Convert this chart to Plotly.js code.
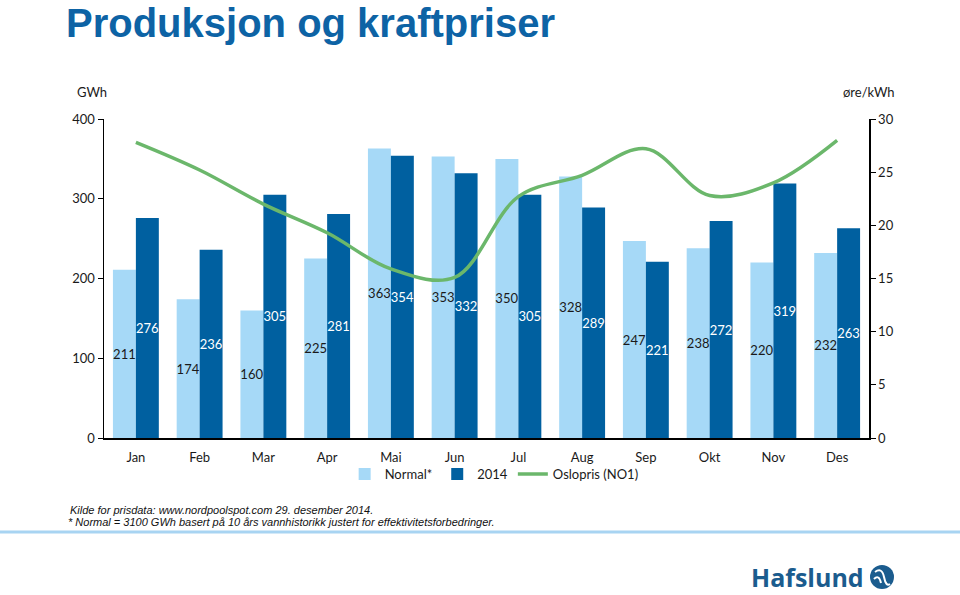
<!DOCTYPE html>
<html>
<head>
<meta charset="utf-8">
<script src="https://cdn.plot.ly/plotly-3.0.1.min.js"></script>
<style>html,body{margin:0;padding:0;background:#fff;}#chart{width:960px;height:595px;}</style>
</head>
<body>
<div id="chart"></div>
<script>
const months = ['Jan','Feb','Mar','Apr','Mai','Jun','Jul','Aug','Sep','Okt','Nov','Des'];
const normal = [211,174,160,225,363,353,350,328,247,238,220,232];
const prod2014 = [276,236,305,281,354,332,305,289,221,272,319,263];
const oslopris = [27.8,25.2,22.0,19.3,15.9,15.1,22.7,24.7,27.2,22.8,24.0,28.0];
const gwhTicks = [0,100,200,300,400];
const priceTicks = [0,5,10,15,20,25,30];

const FONT = 'Lato, "Open Sans", sans-serif';
const LIGHT = '#a6d9f7';
const DARK = '#0060a0';
const GREEN = '#6bb76b';

const traces = [
  {type:'bar', name:'Normal*', x:months, y:normal, marker:{color:LIGHT},
   text:normal.map(String), textposition:'inside', insidetextanchor:'middle',
   textangle:0, constraintext:'none', textfont:{family:FONT, size:13, color:'#1a1a1a'},
   hoverinfo:'skip'},
  {type:'bar', name:'2014', x:months, y:prod2014, marker:{color:DARK},
   text:prod2014.map(String), textposition:'inside', insidetextanchor:'middle',
   textangle:0, constraintext:'none', textfont:{family:FONT, size:13, color:'#ffffff'},
   hoverinfo:'skip'},
  {type:'scatter', mode:'lines', name:'Oslopris (NO1)', x:months, y:oslopris, yaxis:'y2',
   line:{color:GREEN, width:3.5, shape:'spline', smoothing:1}, hoverinfo:'skip'}
];

const layout = {
  width:960, height:595,
  paper_bgcolor:'#ffffff', plot_bgcolor:'#ffffff',
  margin:{l:104, r:91, t:119, b:157, autoexpand:false},
  font:{family:FONT, size:13, color:'#1a1a1a'},
  barmode:'group', bargap:0.28, bargroupgap:0,
  showlegend:true,
  legend:{orientation:'h', x:0.51, xanchor:'center', y:-0.066, yanchor:'top',
          bgcolor:'rgba(0,0,0,0)',
          font:{family:FONT, size:13, color:'#1a1a1a'}, traceorder:'normal',
          itemwidth:30},
  title:{text:'Produksjon og kraftpriser', font:{family:'Liberation Sans, Arial, sans-serif', size:40, color:'#0d63a5', weight:'bold'},
         xref:'container', yref:'container', x:66/960, xanchor:'left', y:1-23/595, yanchor:'middle'},
  xaxis:{showgrid:false, zeroline:false, showline:true, linecolor:'#000', linewidth:1.5,
         ticks:'', ticklabelstandoff:7, tickfont:{family:FONT, size:13, color:'#1a1a1a'}},
  yaxis:{range:[0,400], tickvals:gwhTicks, showgrid:false, zeroline:false, showline:true,
         linecolor:'#000', linewidth:1.5, ticks:'outside', ticklen:5, tickcolor:'#000',
         tickfont:{family:FONT, size:13, color:'#1a1a1a'}, fixedrange:true},
  yaxis2:{range:[0,30], tickvals:priceTicks, overlaying:'y', side:'right', showgrid:false,
          zeroline:false, showline:true, linecolor:'#000', linewidth:1.5, ticks:'outside',
          ticklen:5, tickcolor:'#000', tickfont:{family:FONT, size:13, color:'#1a1a1a'}},
  annotations:[
    {text:'GWh', xref:'paper', yref:'paper', x:-0.0157, y:1+(119-92)/319, xanchor:'center', yanchor:'middle',
     showarrow:false, font:{family:FONT, size:13, color:'#1a1a1a'}},
    {text:'øre/kWh', xref:'paper', yref:'paper', x:1+(869-869)/765, y:1+(119-92)/319, xanchor:'center', yanchor:'middle',
     showarrow:false, font:{family:FONT, size:13, color:'#1a1a1a'}},
    {text:'<i>Kilde for prisdata: www.nordpoolspot.com 29. desember 2014.</i>', xref:'paper', yref:'paper',
     x:(68-104)/765, y:-(510-438)/319, xanchor:'left', yanchor:'middle', showarrow:false,
     font:{family:'Liberation Sans, Arial, sans-serif', size:11, color:'#111'}},
    {text:'<i>* Normal = 3100 GWh basert på 10 års vannhistorikk justert for effektivitetsforbedringer.</i>', xref:'paper', yref:'paper',
     x:(66-104)/765, y:-(522-438)/319, xanchor:'left', yanchor:'middle', showarrow:false,
     font:{family:'Liberation Sans, Arial, sans-serif', size:11, color:'#111'}},
    {text:'<b>Hafslund</b>', xref:'paper', yref:'paper', x:(866-104)/765, y:-(577-438)/319,
     xanchor:'right', yanchor:'middle', showarrow:false,
     font:{family:'Open Sans, sans-serif', size:25, color:'#1b5c8e'}}
  ],
  shapes:[
    {type:'line', xref:'paper', yref:'paper', x0:-104/765, x1:1+91/765, y0:-(532-438)/319, y1:-(532-438)/319,
     line:{color:'#a8d4f2', width:3}},
    {type:'circle', xref:'paper', yref:'paper', x0:(870-104)/765, x1:(894-104)/765,
     y0:-(589-438)/319, y1:-(565-438)/319, fillcolor:'#1b5c8e', line:{width:0}},
    {type:'path', xref:'paper', yref:'paper',
     path:'M '+((875-104)/765)+' '+(-(572-438)/319)+' Q '+((882-104)/765)+' '+(-(567-438)/319)+' '+((884-104)/765)+' '+(-(577-438)/319)+' T '+((890-104)/765)+' '+(-(584-438)/319),
     line:{color:'#ffffff', width:2}},
    {type:'path', xref:'paper', yref:'paper',
     path:'M '+((874-104)/765)+' '+(-(579-438)/319)+' Q '+((879-104)/765)+' '+(-(574-438)/319)+' '+((881-104)/765)+' '+(-(583-438)/319),
     line:{color:'#ffffff', width:2}}
  ]
};

Plotly.newPlot('chart', traces, layout, {displayModeBar:false, staticPlot:true});
</script>
</body>
</html>
